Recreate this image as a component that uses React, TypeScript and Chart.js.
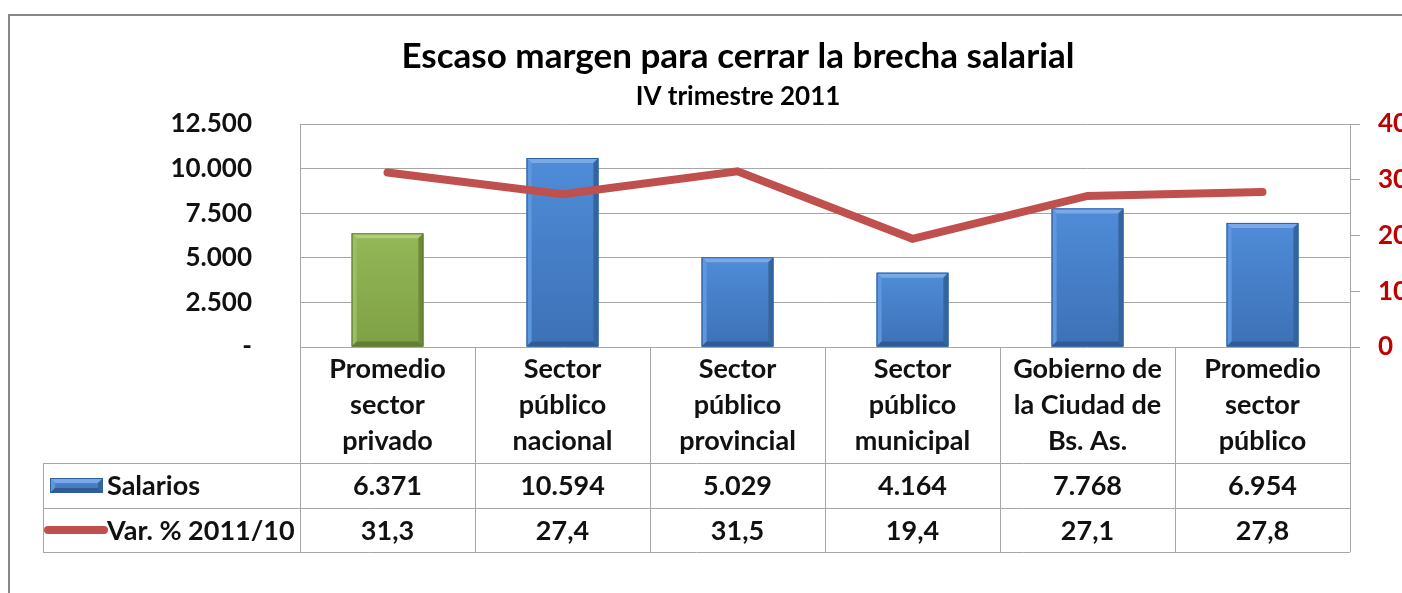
import { useEffect, useRef } from 'react';
import { Chart, registerables } from 'chart.js';

Chart.register(...registerables);

const FONT = 'Lato, "Open Sans", "DejaVu Sans", sans-serif';

const categories: string[][] = [
  ['Promedio', 'sector', 'privado'],
  ['Sector', 'público', 'nacional'],
  ['Sector', 'público', 'provincial'],
  ['Sector', 'público', 'municipal'],
  ['Gobierno de', 'la Ciudad de', 'Bs. As.'],
  ['Promedio', 'sector', 'público'],
];
const salarios = [6371, 10594, 5029, 4164, 7768, 6954];
const variacion = [31.3, 27.4, 31.5, 19.4, 27.1, 27.8];
const seriesNames = ['Salarios', 'Var. % 2011/10'];
const title = 'Escaso margen para cerrar la brecha salarial';
const subtitle = 'IV trimestre 2011';
const leftMin = 0, leftMax = 12500, leftStep = 2500;
const rightMin = 0, rightMax = 40, rightStep = 10;

const fmtThousands = (v: number) =>
  String(Math.round(v)).replace(/\B(?=(\d{3})+(?!\d))/g, '.');
const fmtDecimal = (v: number) => v.toFixed(1).replace('.', ',');

const BLUE = { body: '#4A85CE', top: '#79A9E6', left: '#5E97DD', right: '#35659F', bottom: '#2F5C93', g1: '#4F8CD8', g2: '#3D71B6', edge: '#30609C' };
const GREEN = { body: '#8BAF50', top: '#B0CE7A', left: '#9BBF60', right: '#6C8A38', bottom: '#647F33', g1: '#93B857', g2: '#7FA045', edge: '#5F7B2F' };

function drawBar(ctx: CanvasRenderingContext2D, l: number, r: number, t: number, b: number, pal: typeof BLUE) {
  const s = 5;
  const g = ctx.createLinearGradient(0, t, 0, b);
  g.addColorStop(0, pal.g1);
  g.addColorStop(1, pal.g2);
  ctx.fillStyle = g;
  ctx.fillRect(l, t, r - l, b - t);
  const poly = (pts: number[][], c: string) => {
    ctx.beginPath();
    ctx.moveTo(pts[0][0], pts[0][1]);
    for (let k = 1; k < pts.length; k++) ctx.lineTo(pts[k][0], pts[k][1]);
    ctx.closePath();
    ctx.fillStyle = c;
    ctx.fill();
  };
  poly([[l, t], [r, t], [r - s, t + s], [l + s, t + s]], pal.top);
  poly([[l, t], [l + s, t + s], [l + s, b - s], [l, b]], pal.left);
  poly([[r, t], [r, b], [r - s, b - s], [r - s, t + s]], pal.right);
  poly([[l, b], [l + s, b - s], [r - s, b - s], [r, b]], pal.bottom);
  ctx.strokeStyle = pal.edge;
  ctx.lineWidth = 1;
  ctx.strokeRect(l + 0.5, t + 0.5, r - l - 1, b - t - 1);
}

const decorPlugin = {
  id: 'decor',
  afterDatasetDraw(chart: any, args: any) {
    if (args.index !== 0) return;
    const ctx: CanvasRenderingContext2D = chart.ctx;
    const meta = chart.getDatasetMeta(0);
    ctx.save();
    meta.data.forEach((el: any, i: number) => {
      const p = el.getProps(['x', 'y', 'base', 'width'], true);
      drawBar(ctx, p.x - p.width / 2, p.x + p.width / 2, p.y, p.base, i === 0 ? GREEN : BLUE);
    });
    ctx.restore();
  },
  afterDraw(chart: any) {
    const ctx: CanvasRenderingContext2D = chart.ctx;
    const ca = chart.chartArea;
    const xs = chart.scales.x;
    const n = categories.length;
    const cw = (ca.right - ca.left) / n;
    ctx.save();
    // frame
    ctx.strokeStyle = '#878787';
    ctx.lineWidth = 2;
    ctx.strokeRect(9, 15, 1600, 800);

    // title
    ctx.fillStyle = '#000';
    ctx.textAlign = 'center';
    ctx.textBaseline = 'middle';
    ctx.font = `bold 35px ${FONT}`;
    ctx.fillText(title, 738, 57);
    ctx.font = `bold 26px ${FONT}`;
    ctx.fillText(subtitle, 738, 97);

    // table
    const top = ca.bottom;
    const r1 = 463, r2 = 508, r3 = 552, xl = 43;
    ctx.strokeStyle = '#A6A6A6';
    ctx.lineWidth = 1;
    ctx.beginPath();
    for (let i = 0; i <= n; i++) {
      const x = Math.round(ca.left + i * cw) + 0.5;
      ctx.moveTo(x, top);
      ctx.lineTo(x, r3);
    }
    ctx.moveTo(xl + 0.5, r1);
    ctx.lineTo(xl + 0.5, r3);
    [r1, r2, r3].forEach((y) => {
      ctx.moveTo(xl, y + 0.5);
      ctx.lineTo(ca.right, y + 0.5);
    });
    ctx.stroke();

    ctx.fillStyle = '#111';
    ctx.font = `bold 27px ${FONT}`;
    ctx.textAlign = 'center';
    const lineYs = [369, 405, 441];
    categories.forEach((lines, i) => {
      const cx = xs.getPixelForValue(i);
      lines.forEach((s, k) => ctx.fillText(s, cx, lineYs[k]));
      ctx.fillText(fmtThousands(salarios[i]), cx, (r1 + r2) / 2 + 1);
      ctx.fillText(fmtDecimal(variacion[i]), cx, (r2 + r3) / 2 + 1);
    });

    // legend keys
    ctx.textAlign = 'left';
    drawBar(ctx, 50, 103, 478, 493, BLUE);
    ctx.strokeStyle = '#C0504D';
    ctx.lineWidth = 8;
    ctx.lineCap = 'round';
    ctx.beginPath();
    ctx.moveTo(48, 530);
    ctx.lineTo(104, 530);
    ctx.stroke();
    ctx.fillStyle = '#111';
    ctx.fillText(seriesNames[0], 107, (r1 + r2) / 2 + 1);
    ctx.fillText(seriesNames[1], 107, (r2 + r3) / 2 + 1);
    ctx.restore();
  },
};

export default function App() {
  const ref = useRef<HTMLCanvasElement>(null);
  useEffect(() => {
    document.body.style.margin = '0';
    const chart = new Chart(ref.current!, {
      data: {
        labels: categories.map((c) => c.join(' ')),
        datasets: [
          {
            type: 'bar',
            label: seriesNames[0],
            data: salarios,
            yAxisID: 'y',
            backgroundColor: salarios.map((_, i) => (i === 0 ? GREEN.body : BLUE.body)),
            barPercentage: 0.41,
            categoryPercentage: 1,
            order: 1,
          },
          {
            type: 'line',
            label: seriesNames[1],
            data: variacion,
            yAxisID: 'y1',
            borderColor: '#C0504D',
            borderWidth: 8,
            borderCapStyle: 'round',
            borderJoinStyle: 'miter',
            pointRadius: 0,
            tension: 0,
            order: 0,
          },
        ],
      } as any,
      options: {
        responsive: false,
        animation: false,
        layout: { padding: { left: 0, right: 0, top: 124, bottom: 246 } },
        plugins: { legend: { display: false }, tooltip: { enabled: false }, title: { display: false } },
        scales: {
          x: { type: 'category', display: false },
          y: {
            position: 'left',
            min: leftMin,
            max: leftMax,
            afterFit: (s: any) => { s.width = 300; },
            ticks: {
              stepSize: leftStep,
              padding: 48,
              color: '#111',
              font: { family: FONT, size: 26, weight: 'bold' },
              callback: (v: any) => (Number(v) === 0 ? '-' : fmtThousands(Number(v))),
            },
            grid: { color: '#A6A6A6', lineWidth: 1, drawTicks: false },
            border: { display: true, color: '#A6A6A6' },
          },
          y1: {
            position: 'right',
            min: rightMin,
            max: rightMax,
            afterFit: (s: any) => { s.width = 52; },
            ticks: {
              stepSize: rightStep,
              padding: 18,
              color: '#C00000',
              font: { family: FONT, size: 26, weight: 'bold' },
            },
            grid: { drawOnChartArea: false, drawTicks: true, tickLength: 10, color: '#A6A6A6' },
            border: { display: true, color: '#A6A6A6' },
          },
        },
      } as any,
      plugins: [decorPlugin],
    });
    return () => chart.destroy();
  }, []);
  return (
    <div style={{ width: 1402, height: 593, background: '#fff', overflow: 'hidden' }}>
      <canvas ref={ref} width={1402} height={593} style={{ display: 'block' }} />
    </div>
  );
}
